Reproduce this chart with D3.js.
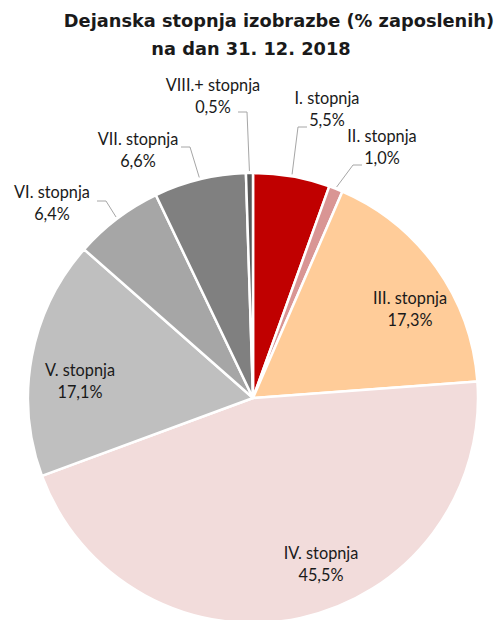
<!DOCTYPE html>
<html><head><meta charset="utf-8">
<script src="https://cdn.jsdelivr.net/npm/d3@7"></script>
<style>body{margin:0;background:#fff;} svg{display:block;}</style>
</head><body>
<svg id="c" width="503" height="620"></svg>
<script>
const categories = ["I. stopnja","II. stopnja","III. stopnja","IV. stopnja","V. stopnja","VI. stopnja","VII. stopnja","VIII.+ stopnja"];
const values = [5.5, 1.0, 17.3, 45.5, 17.1, 6.4, 6.6, 0.5];
const valueLabels = ["5,5%","1,0%","17,3%","45,5%","17,1%","6,4%","6,6%","0,5%"];
const colors = ["#C00000","#D99594","#FFCC99","#F2DCDB","#BFBFBF","#A6A6A6","#808080","#595959"];
// label layout: [x, baseline y of first line, inside flag, elbow point]
const labelPos = [[327,104,false,[298,127]],[382,142,false,[353,165]],[410,304,true,null],[321,559,true,null],[80,376,true,null],[52,198,false,[106,201]],[138,145,false,[190,147]],[213,91,false,[247,112]]];

const svg = d3.select("#c");
const cx = 253, cy = 398, r = 225;
const g = svg.append("g").attr("transform",`translate(${cx},${cy})`);
const pie = d3.pie().sort(null).value(d=>d)(values);
const arc = d3.arc().innerRadius(0).outerRadius(r);
g.selectAll("path").data(pie).join("path")
  .attr("d",arc).attr("fill",(d,i)=>colors[i])
  .attr("stroke","#fff").attr("stroke-width",2.5).attr("stroke-linejoin","round");

svg.append("text").attr("x",279).attr("y",27).attr("text-anchor","middle")
  .attr("font-family","DejaVu Sans").attr("font-weight","bold").attr("font-size",17.8)
  .attr("fill","#1a1a1a").text("Dejanska stopnja izobrazbe (% zaposlenih)");
svg.append("text").attr("x",251).attr("y",55).attr("text-anchor","middle")
  .attr("font-family","DejaVu Sans").attr("font-weight","bold").attr("font-size",17.8)
  .attr("fill","#1a1a1a").text("na dan 31. 12. 2018");

pie.forEach((d,i)=>{
  const [lx,ly,inside,elbow] = labelPos[i];
  if(!inside){
    const a = (d.startAngle+d.endAngle)/2;
    const ex = cx + Math.sin(a)*(r+2), ey = cy - Math.cos(a)*(r+2);
    const onLeft = elbow[0] < lx;
    const hx = onLeft ? elbow[0]+9 : elbow[0]-9;
    svg.append("polyline").attr("points",`${hx},${elbow[1]} ${elbow[0]},${elbow[1]} ${ex},${ey}`)
      .attr("fill","none").attr("stroke","#A6A6A6").attr("stroke-width",1);
  }
  const t = svg.append("text").attr("x",lx).attr("y",ly).attr("text-anchor","middle")
    .attr("font-family","Lato, 'Open Sans', sans-serif").attr("font-size",16.3).attr("fill","#1a1a1a");
  t.append("tspan").attr("x",lx).text(categories[i]);
  t.append("tspan").attr("x",lx).attr("dy",22).text(valueLabels[i]);
});
</script>
</body></html>
